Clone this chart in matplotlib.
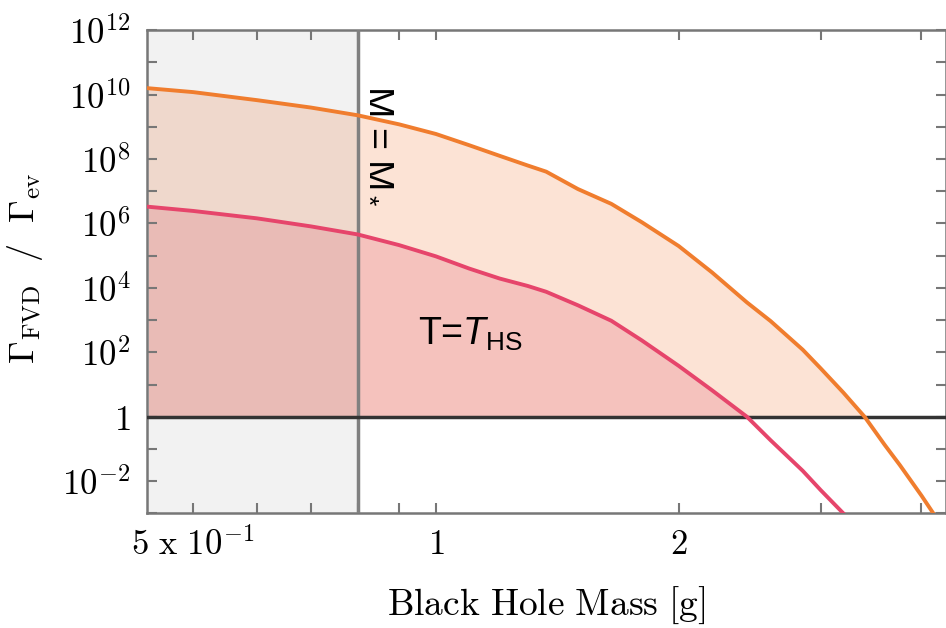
import numpy as np
import matplotlib
matplotlib.use("Agg")
import matplotlib.pyplot as plt
from matplotlib.ticker import FixedLocator, NullFormatter

plt.rcParams['mathtext.fontset'] = 'custom'
plt.rcParams['mathtext.rm'] = 'Liberation Sans'
plt.rcParams['mathtext.it'] = 'Liberation Sans:italic'
plt.rcParams['mathtext.bf'] = 'Liberation Sans:bold'

# black hole mass [g], shared grid for both curves
mass = [0.44, 0.5, 0.6, 0.7, 0.8, 0.9, 1.0, 1.1, 1.2, 1.3, 1.37, 1.5, 1.65,
        1.8, 2.0, 2.2, 2.43, 2.6, 2.85, 3.0, 3.2, 3.4, 3.6, 3.76, 4.0, 4.15]
# log10(Gamma_FVD / Gamma_ev)
log_upper = [10.20, 10.08, 9.83, 9.60, 9.36, 9.08, 8.78, 8.43, 8.10, 7.80, 7.61, 7.07, 6.61,
             6.04, 5.30, 4.48, 3.55, 2.97, 2.08, 1.50, 0.75, 0.0, -0.87, -1.50, -2.45, -3.05]
log_hs = [6.52, 6.39, 6.16, 5.91, 5.66, 5.33, 4.98, 4.60, 4.29, 4.06, 3.88, 3.46, 2.98,
          2.37, 1.58, 0.82, 0.0, -0.73, -1.68, -2.28, -3.0, np.nan, np.nan, np.nan, np.nan, np.nan]
m_star = 0.8

xticks = [0.5, 1, 2]
xticklabels = [r'$5\ \mathrm{x}\ 10^{-1}$', r'$1$', r'$2$']
xminor = [0.6, 0.7, 0.8, 0.9, 3, 4]
yticks = [1e-2, 1, 1e2, 1e4, 1e6, 1e8, 1e10, 1e12]
yticklabels = [r'$10^{-2}$', r'$1$', r'$10^{2}$', r'$10^{4}$', r'$10^{6}$',
               r'$10^{8}$', r'$10^{10}$', r'$10^{12}$']
yminor = [1e-3, 1e-1, 1e1, 1e3, 1e5, 1e7, 1e9, 1e11]

x = np.array(mass)
up = 10 ** np.array(log_upper)
hs = 10 ** np.array(log_hs)
low_band = np.fmax(hs, 1.0)

fig = plt.figure(figsize=(9.46, 6.28), dpi=100)
ax = fig.add_axes([0.1554, 0.1826, 0.8446, 0.7692])
ax.set_xscale('log')
ax.set_yscale('log')
ax.set_xlim(0.4384, 4.29)
ax.set_ylim(1e-3, 1e12)

ax.fill_between(x, low_band, np.fmax(up, 1.0), color='#FCE3D5', lw=0, zorder=1)
ax.fill_between(x, 1.0, low_band, color='#F5C2BD', lw=0, zorder=1)
ax.axvspan(0.3, m_star, color='#808080', alpha=0.1, lw=0, zorder=2)
ax.axvline(m_star, color='#808080', lw=2.5, zorder=3)
ax.axhline(1.0, color='#333333', lw=2.5, zorder=3)
ax.plot(x, up, color='#F07D2E', lw=2.8, zorder=4)
ax.plot(x, hs, color='#E6456B', lw=2.8, zorder=4)

ax.text(0.857, 10**10.3, r'M = M$_*$', rotation=-90, ha='center', va='top',
        fontsize=27, family='Liberation Sans')
ax.text(0.95, 10**2.25, r'T=$T_{\mathrm{HS}}$', ha='left', va='baseline',
        fontsize=27, family='Liberation Sans')

ax.xaxis.set_major_locator(FixedLocator(xticks))
ax.xaxis.set_minor_locator(FixedLocator(xminor))
ax.xaxis.set_minor_formatter(NullFormatter())
ax.set_xticklabels(xticklabels, math_fontfamily='cm', fontsize=25)
ax.yaxis.set_major_locator(FixedLocator(yticks))
ax.yaxis.set_minor_locator(FixedLocator(yminor))
ax.yaxis.set_minor_formatter(NullFormatter())
ax.set_yticklabels(yticklabels, math_fontfamily='cm', fontsize=25)

ax.tick_params(which='both', direction='in', top=True, right=True, length=7,
               width=1.5, color='#777777')
ax.tick_params(axis='x', which='major', pad=10)
ax.tick_params(axis='y', which='major', pad=12)
for s in ax.spines.values():
    s.set_color('#777777')
    s.set_linewidth(1.8)

ax.set_xlabel(r'$\mathrm{Black\ Hole\ Mass\ [g]}$', math_fontfamily='cm', fontsize=27)
ax.set_ylabel(r'$\Gamma_{\mathrm{FVD}}\ \ /\ \ \Gamma_{\mathrm{ev}}$', math_fontfamily='cm', fontsize=26)
ax.xaxis.set_label_coords(0.5, -0.148)
ax.yaxis.set_label_coords(-0.128, 0.508)

fig.savefig('out.png', dpi=100)
